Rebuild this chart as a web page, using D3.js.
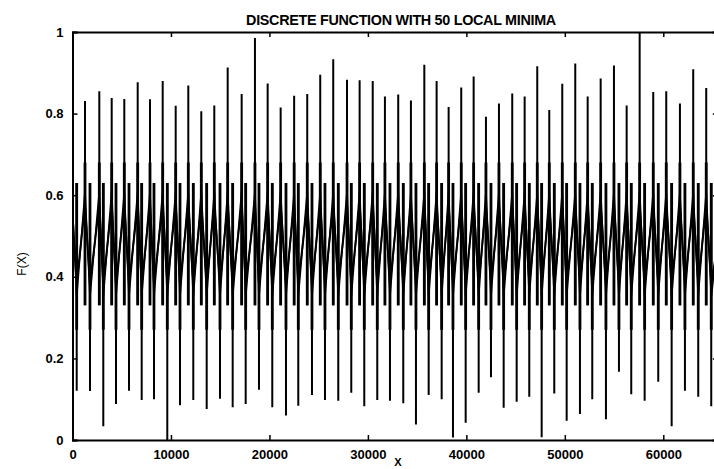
<!DOCTYPE html>
<html><head><meta charset="utf-8">
<script src="https://cdn.jsdelivr.net/npm/d3@7"></script>
<style>
body{margin:0;background:#fff}
svg{display:block}
text{font-family:"Liberation Sans",Arial,sans-serif;fill:#000}
</style></head>
<body><svg id="c" width="714" height="469"></svg>
<script>
// ---- data ----
const maxX = [1269,2722,3981,5260,6621,7870,9160,10480,11760,13080,14400,15760,17180,18530,19820,21140,22510,23840,25160,26480,27880,29160,30490,31730,33080,34370,35730,36980,38200,39480,40740,41990,43310,44660,45920,47200,48420,49740,51060,52320,53640,54990,56280,57600,58980,60300,61690,63040,64360];
const maxY = [0.831,0.855,0.838,0.836,0.877,0.835,0.88,0.819,0.869,0.806,0.82,0.913,0.848,0.985,0.874,0.815,0.844,0.848,0.895,0.933,0.883,0.882,0.88,0.842,0.847,0.832,0.92,0.88,0.816,0.864,0.891,0.792,0.825,0.849,0.842,0.916,0.809,0.873,0.923,0.842,0.886,0.918,0.82,1.0,0.853,0.855,0.825,0.909,0.863];
const minX = [427,1777,3128,4417,5738,7027,8276,9627,10917,12267,13628,14979,16268,17589,18939,20290,21681,22930,24321,25641,26992,28312,29632,30952,32242,33593,34882,36172,37492,38640,39930,41250,42500,43789,45109,46389,47648,48928,50187,51537,52786,54177,55497,56746,58107,59488,60849,62199,63549,64870];
const minY = [0.121,0.120,0.034,0.088,0.121,0.098,0.100,0.0,0.085,0.098,0.076,0.101,0.080,0.088,0.123,0.080,0.060,0.084,0.110,0.098,0.096,0.116,0.083,0.098,0.096,0.090,0.038,0.110,0.100,0.006,0.042,0.116,0.154,0.079,0.094,0.106,0.007,0.114,0.047,0.064,0.100,0.051,0.167,0.112,0.096,0.143,0.034,0.121,0.106,0.083];
const bandHigh = 0.575, bandLow = 0.385;     // inner zig-zag turning levels
const bandHigh2 = 0.61, bandLow2 = 0.35;     // outer zig-zag turning levels
const upSpikeBase = 0.33, downSpikeTop = 0.63; // spike extents through the band
const startY = 0.55, endY = 0.48;
const xTicks = [0,10000,20000,30000,40000,50000,60000];
const yTicks = [0,0.2,0.4,0.6,0.8,1];
const titleText = "DISCRETE FUNCTION WITH 50 LOCAL MINIMA";
const xLabel = "X", yLabel = "F(X)";

// ---- build ----
const svg = d3.select("#c");
const x = d3.scaleLinear().domain([0,65536]).range([72.5,717.8]);
const y = d3.scaleLinear().domain([0,1]).range([440,32]);
const line = d3.line().x(d=>x(d[0])).y(d=>y(d[1]));

const events = [];
minX.forEach((v,i)=>events.push({x:v,type:"min",v:minY[i]}));
maxX.forEach((v,i)=>events.push({x:v,type:"max",v:maxY[i]}));
events.sort((a,b)=>a.x-b.x);

// main trace with spikes
const pts = [[0,startY]];
events.forEach(e=>{
  if(e.type==="min") pts.push([e.x,bandLow],[e.x,e.v],[e.x,downSpikeTop],[e.x,bandLow]);
  else pts.push([e.x,bandHigh],[e.x,e.v],[e.x,upSpikeBase],[e.x,bandHigh]);
});
pts.push([65536,endY]);
// outer zig-zag
const pts2 = [[0,0.57]];
events.forEach(e=>pts2.push([e.x, e.type==="min"?bandLow2:bandHigh2]));
pts2.push([65536,0.49]);

svg.append("clipPath").attr("id","clip").append("rect")
  .attr("x",72.5).attr("y",32).attr("width",645.3).attr("height",408);
const plot = svg.append("g").attr("clip-path","url(#clip)");
plot.append("path").datum(pts2)
  .attr("fill","none").attr("stroke","#000").attr("stroke-width",1.6)
  .attr("d",line);
plot.append("path").datum(pts)
  .attr("fill","none").attr("stroke","#000").attr("stroke-width",2)
  .attr("d",line);
// thicker spike cores within the dense band
plot.selectAll("line.core").data(events).join("line")
  .attr("x1",d=>x(d.x)).attr("x2",d=>x(d.x))
  .attr("y1",d=>y(d.type==="min"?downSpikeTop:0.68))
  .attr("y2",d=>y(d.type==="min"?0.27:upSpikeBase))
  .attr("stroke","#000").attr("stroke-width",2.8);

// axes (MATLAB style, inward ticks)
const fmt = d3.format("d");
const ax = svg.append("g").attr("transform","translate(0,440)")
  .call(d3.axisBottom(x).tickValues(xTicks).tickFormat(fmt).tickSize(-5).tickPadding(10));
const axTop = svg.append("g").attr("transform","translate(0,32)")
  .call(d3.axisTop(x).tickValues(xTicks).tickFormat("").tickSize(-5));
const ay = svg.append("g").attr("transform","translate(72.5,0)")
  .call(d3.axisLeft(y).tickValues(yTicks).tickFormat(d=>d===0?"0":d===1?"1":d3.format(".1f")(d)).tickSize(-5).tickPadding(9));
const ayR = svg.append("g").attr("transform","translate(717.8,0)")
  .call(d3.axisRight(y).tickValues(yTicks).tickFormat("").tickSize(-5));
[ax,axTop,ay,ayR].forEach(a=>{
  a.select(".domain").attr("stroke","#000").attr("stroke-width",2);
  a.selectAll(".tick line").attr("stroke","#000").attr("stroke-width",1.5);
  a.selectAll("text").attr("font-size",13).attr("font-weight","bold")
    .attr("font-family","'Liberation Sans',Arial,sans-serif").attr("fill","#000");
});

// title
const t = svg.append("text").attr("x",401).attr("y",24.5)
  .attr("text-anchor","middle").attr("font-weight","bold").attr("font-size",12)
  .attr("letter-spacing",-0.3).text(titleText);
const w = t.node().getComputedTextLength();
t.attr("font-size",12*308/w);

svg.append("text").attr("transform","translate(26,264) rotate(-90)")
  .attr("text-anchor","middle").attr("font-size",12).text(yLabel);
svg.append("text").attr("x",398).attr("y",466)
  .attr("text-anchor","middle").attr("font-size",11).attr("font-weight","bold").text(xLabel);
</script></body></html>
